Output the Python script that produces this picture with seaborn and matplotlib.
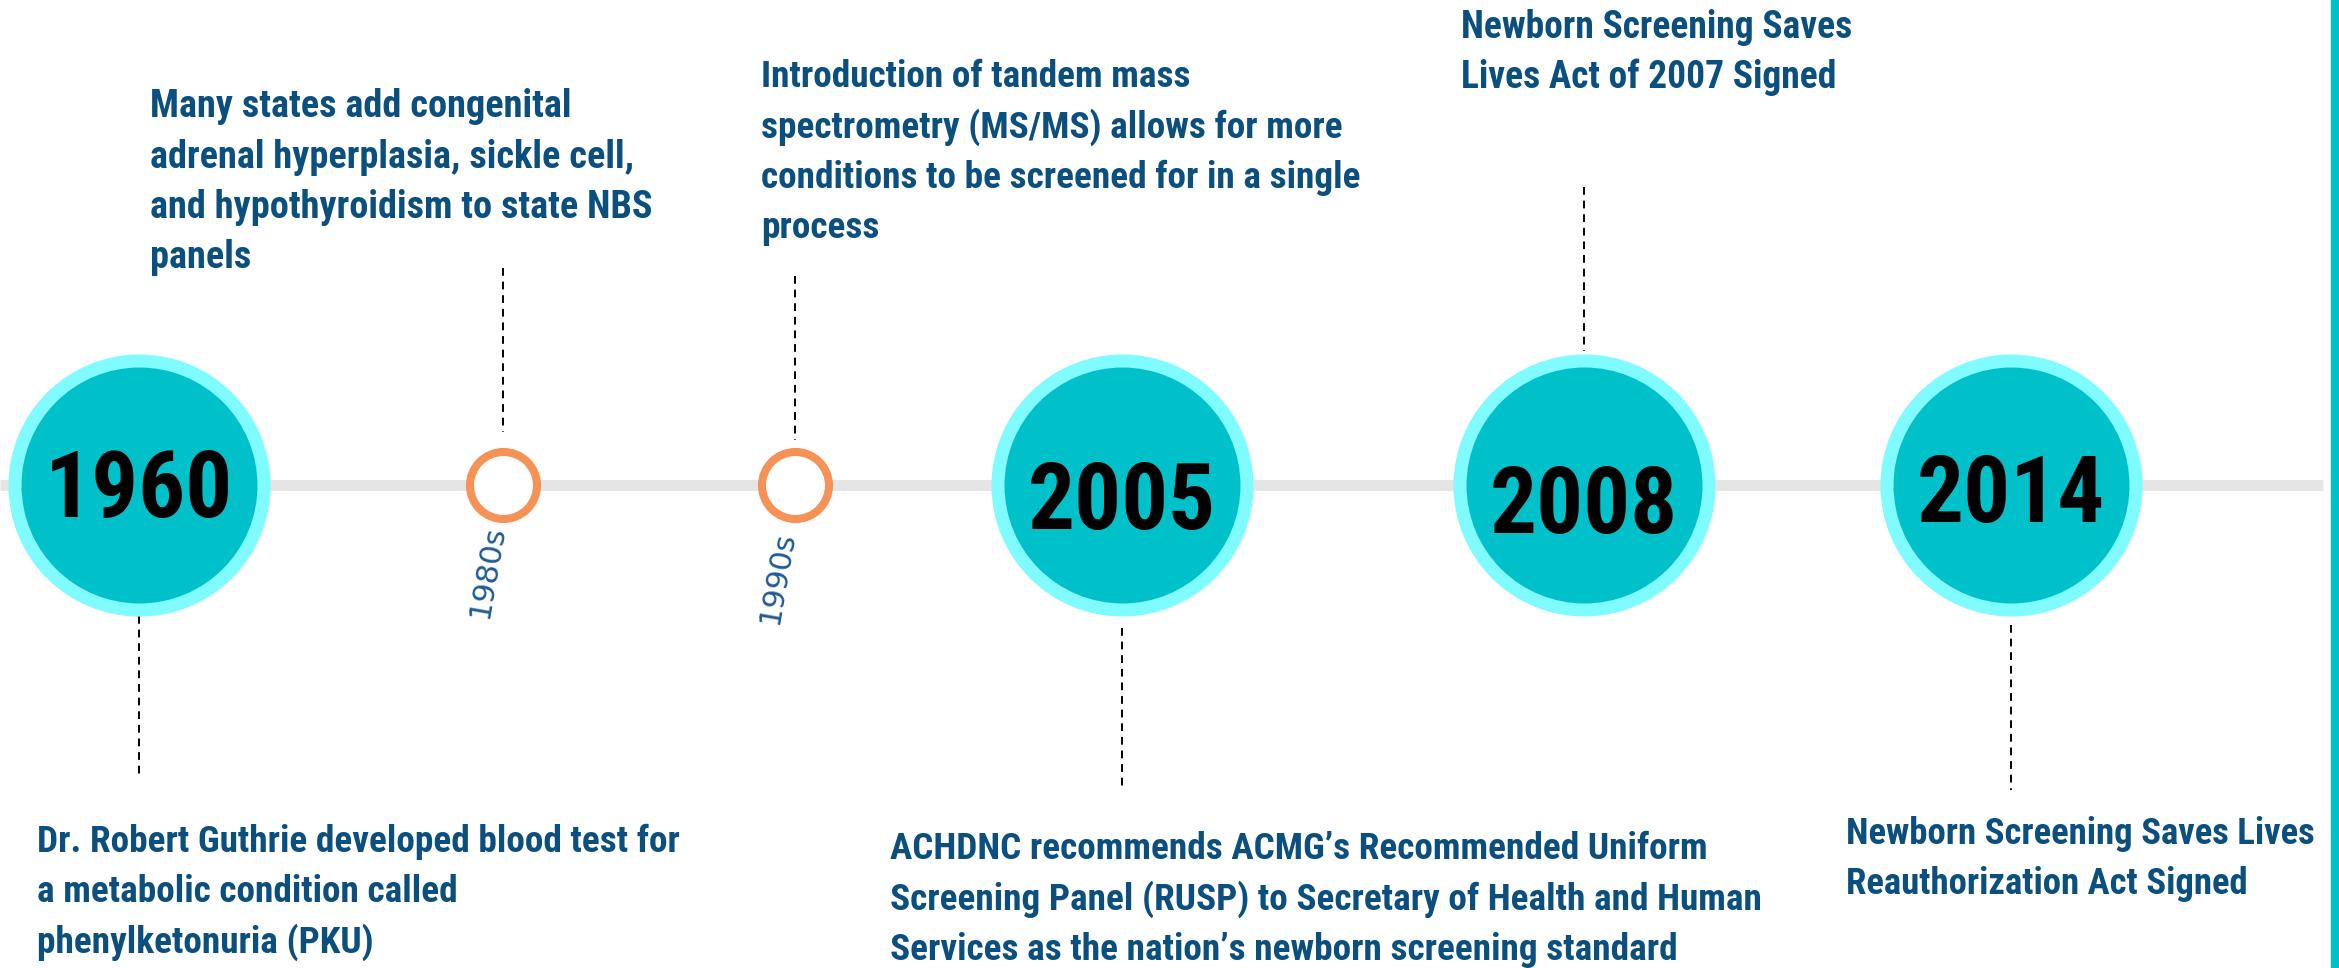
import matplotlib
matplotlib.use("Agg")
import matplotlib.pyplot as plt
import seaborn as sns
import pandas as pd
from matplotlib import font_manager

# Milestones on the newborn screening timeline
labels = ["1960", "1980s", "1990s", "2005", "2008", "2014"]
kinds = ["major", "minor", "minor", "major", "major", "major"]
descriptions = [
    ["Dr. Robert Guthrie developed blood test for",
     "a metabolic condition called",
     "phenylketonuria (PKU)"],
    ["Many states add congenital",
     "adrenal hyperplasia, sickle cell,",
     "and hypothyroidism to state NBS",
     "panels"],
    ["Introduction of tandem mass",
     "spectrometry (MS/MS) allows for more",
     "conditions to be screened for in a single",
     "process"],
    ["ACHDNC recommends ACMG\u2019s Recommended Uniform",
     "Screening Panel (RUSP) to Secretary of Health and Human",
     "Services as the nation\u2019s newborn screening standard"],
    ["Newborn Screening Saves",
     "Lives Act of 2007 Signed"],
    ["Newborn Screening Saves Lives",
     "Reauthorization Act Signed"],
]

# Layout (canvas in pixels, y downwards)
W, H = 2339, 968
line_y = 485
node_x = [139, 503, 795, 1122, 1584, 2011]
stem_top = [616, 268, 276, 628, 187, 625]
stem_bottom = [776, 432, 440, 791, 351, 790]
text_x = [37, 150, 761, 890, 1461, 1846]
text_base = [852, 117, 87, 859, 38, 844]
text_size = [26.8, 27.5, 26.8, 26.8, 27, 26.5]
line_gap = 50.5
year_base = [517, 0, 0, 529, 533, 522]
decade_pos = {"1980s": (487, 571), "1990s": (777, 578)}

TEAL = "#00C1C9"
RING = "#80FBFF"
ORANGE = "#F79256"
NAVY = "#0B4F7E"

sns.set_theme(style="white")
available = {f.name for f in font_manager.fontManager.ttflist}
narrow = next((f for f in ["Liberation Sans Narrow", "Roboto Condensed", "DejaVu Sans"]
               if f in available), "DejaVu Sans")
plt.rcParams["font.family"] = [narrow, "DejaVu Sans"]

df = pd.DataFrame({"label": labels, "kind": kinds, "x": node_x, "y": line_y})

fig = plt.figure(figsize=(W / 100, H / 100), dpi=100)
ax = fig.add_axes([0, 0, 1, 1])
ax.set_xlim(0, W)
ax.set_ylim(H, 0)
ax.axis("off")

# base line and right edge strip
ax.hlines(line_y, 0, 2323, color="#E5E5E5", lw=7.9, zorder=1)
ax.axvspan(2331, W, color=TEAL, zorder=1)

# dashed connectors
ax.vlines(node_x, stem_top, stem_bottom, colors="black", lw=1.4,
          linestyles=(0, (4, 3)), zorder=1)

major = df[df["kind"] == "major"]
minor = df[df["kind"] == "minor"]
sns.scatterplot(data=major, x="x", y="y", ax=ax, s=32150, color=TEAL,
                edgecolor=RING, linewidth=9.4, zorder=3, legend=False)
sns.scatterplot(data=minor, x="x", y="y", ax=ax, s=2330, color="white",
                edgecolor=ORANGE, linewidth=5.8, zorder=3, legend=False)
ax.set_xlim(0, W)
ax.set_ylim(H, 0)
ax.set_xlabel("")
ax.set_ylabel("")

for i, lab in enumerate(labels):
    if kinds[i] == "major":
        ax.text(node_x[i], year_base[i], lab, ha="center", va="baseline",
                fontsize=67, fontweight="heavy", color="black",
                fontstretch="condensed", zorder=4)
    else:
        cx, cy = decade_pos[lab]
        ax.text(cx, cy, lab, ha="center", va="center", rotation=80,
                rotation_mode="anchor", fontsize=22, color="#1F5A96",
                family=["DejaVu Sans"], fontweight="normal", zorder=4)
    for j, line in enumerate(descriptions[i]):
        ax.text(text_x[i], text_base[i] + j * line_gap, line, ha="left",
                va="baseline", fontsize=text_size[i], fontweight="bold",
                color=NAVY, fontstretch="condensed", zorder=4)

fig.savefig("out.png", dpi=100, facecolor="white")
